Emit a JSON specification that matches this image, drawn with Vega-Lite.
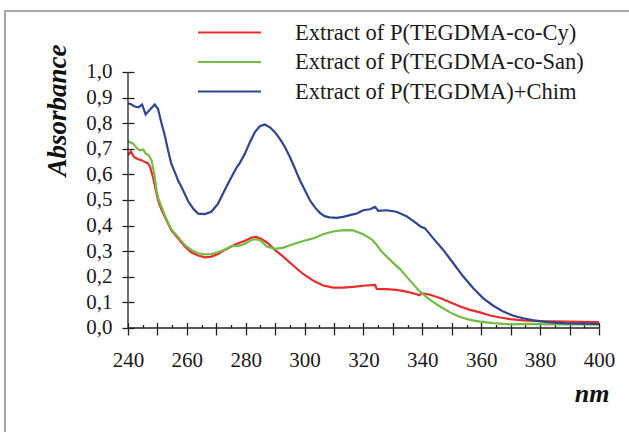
{
  "$schema": "https://vega.github.io/schema/vega-lite/v6.json",
  "autosize": {"type": "none"},
  "width": 627,
  "height": 424,
  "padding": {"left": 5, "top": 11, "right": -3, "bottom": -3},
  "background": "white",
  "config": {
    "view": {"stroke": "#8c8c8c", "strokeWidth": 1.5},
    "font": "Liberation Serif",
    "axis": {"domain": false, "grid": false, "tickColor": "#222222", "tickWidth": 1.3, "labelFont": "Liberation Serif", "labelFontSize": 21, "labelColor": "#1a1a1a", "titleFont": "Liberation Serif", "titleColor": "#111111"}
  },
  "datasets": {
    "spectra": [
      {"series": "Extract of P(TEGDMA-co-Cy)", "nm": 240, "A": 0.674},
      {"series": "Extract of P(TEGDMA-co-Cy)", "nm": 241, "A": 0.690},
      {"series": "Extract of P(TEGDMA-co-Cy)", "nm": 242, "A": 0.668},
      {"series": "Extract of P(TEGDMA-co-Cy)", "nm": 243.5, "A": 0.659},
      {"series": "Extract of P(TEGDMA-co-Cy)", "nm": 244.6, "A": 0.655},
      {"series": "Extract of P(TEGDMA-co-Cy)", "nm": 245.8, "A": 0.648},
      {"series": "Extract of P(TEGDMA-co-Cy)", "nm": 246.7, "A": 0.644},
      {"series": "Extract of P(TEGDMA-co-Cy)", "nm": 247.5, "A": 0.629},
      {"series": "Extract of P(TEGDMA-co-Cy)", "nm": 248.6, "A": 0.584},
      {"series": "Extract of P(TEGDMA-co-Cy)", "nm": 249.7, "A": 0.525},
      {"series": "Extract of P(TEGDMA-co-Cy)", "nm": 250.2, "A": 0.499},
      {"series": "Extract of P(TEGDMA-co-Cy)", "nm": 251.3, "A": 0.465},
      {"series": "Extract of P(TEGDMA-co-Cy)", "nm": 252.5, "A": 0.434},
      {"series": "Extract of P(TEGDMA-co-Cy)", "nm": 254.7, "A": 0.382},
      {"series": "Extract of P(TEGDMA-co-Cy)", "nm": 257, "A": 0.350},
      {"series": "Extract of P(TEGDMA-co-Cy)", "nm": 259.3, "A": 0.318},
      {"series": "Extract of P(TEGDMA-co-Cy)", "nm": 261.5, "A": 0.296},
      {"series": "Extract of P(TEGDMA-co-Cy)", "nm": 263.8, "A": 0.283},
      {"series": "Extract of P(TEGDMA-co-Cy)", "nm": 266.1, "A": 0.276},
      {"series": "Extract of P(TEGDMA-co-Cy)", "nm": 268.3, "A": 0.279},
      {"series": "Extract of P(TEGDMA-co-Cy)", "nm": 270.6, "A": 0.289},
      {"series": "Extract of P(TEGDMA-co-Cy)", "nm": 272.9, "A": 0.305},
      {"series": "Extract of P(TEGDMA-co-Cy)", "nm": 275.1, "A": 0.318},
      {"series": "Extract of P(TEGDMA-co-Cy)", "nm": 277.4, "A": 0.331},
      {"series": "Extract of P(TEGDMA-co-Cy)", "nm": 279.6, "A": 0.340},
      {"series": "Extract of P(TEGDMA-co-Cy)", "nm": 281.9, "A": 0.353},
      {"series": "Extract of P(TEGDMA-co-Cy)", "nm": 283.6, "A": 0.356},
      {"series": "Extract of P(TEGDMA-co-Cy)", "nm": 285.3, "A": 0.348},
      {"series": "Extract of P(TEGDMA-co-Cy)", "nm": 287.1, "A": 0.335},
      {"series": "Extract of P(TEGDMA-co-Cy)", "nm": 289.9, "A": 0.305},
      {"series": "Extract of P(TEGDMA-co-Cy)", "nm": 292.7, "A": 0.279},
      {"series": "Extract of P(TEGDMA-co-Cy)", "nm": 296.1, "A": 0.244},
      {"series": "Extract of P(TEGDMA-co-Cy)", "nm": 299.5, "A": 0.211},
      {"series": "Extract of P(TEGDMA-co-Cy)", "nm": 302.9, "A": 0.185},
      {"series": "Extract of P(TEGDMA-co-Cy)", "nm": 306.3, "A": 0.166},
      {"series": "Extract of P(TEGDMA-co-Cy)", "nm": 309.7, "A": 0.158},
      {"series": "Extract of P(TEGDMA-co-Cy)", "nm": 313.1, "A": 0.158},
      {"series": "Extract of P(TEGDMA-co-Cy)", "nm": 316.5, "A": 0.161},
      {"series": "Extract of P(TEGDMA-co-Cy)", "nm": 319.9, "A": 0.165},
      {"series": "Extract of P(TEGDMA-co-Cy)", "nm": 323.9, "A": 0.168},
      {"series": "Extract of P(TEGDMA-co-Cy)", "nm": 324.5, "A": 0.153},
      {"series": "Extract of P(TEGDMA-co-Cy)", "nm": 327.8, "A": 0.152},
      {"series": "Extract of P(TEGDMA-co-Cy)", "nm": 331.2, "A": 0.149},
      {"series": "Extract of P(TEGDMA-co-Cy)", "nm": 334.6, "A": 0.142},
      {"series": "Extract of P(TEGDMA-co-Cy)", "nm": 337.4, "A": 0.134},
      {"series": "Extract of P(TEGDMA-co-Cy)", "nm": 339, "A": 0.128},
      {"series": "Extract of P(TEGDMA-co-Cy)", "nm": 339.8, "A": 0.136},
      {"series": "Extract of P(TEGDMA-co-Cy)", "nm": 342.6, "A": 0.130},
      {"series": "Extract of P(TEGDMA-co-Cy)", "nm": 346, "A": 0.117},
      {"series": "Extract of P(TEGDMA-co-Cy)", "nm": 349.4, "A": 0.101},
      {"series": "Extract of P(TEGDMA-co-Cy)", "nm": 352.8, "A": 0.084},
      {"series": "Extract of P(TEGDMA-co-Cy)", "nm": 356.2, "A": 0.071},
      {"series": "Extract of P(TEGDMA-co-Cy)", "nm": 359.6, "A": 0.061},
      {"series": "Extract of P(TEGDMA-co-Cy)", "nm": 363, "A": 0.049},
      {"series": "Extract of P(TEGDMA-co-Cy)", "nm": 366.4, "A": 0.041},
      {"series": "Extract of P(TEGDMA-co-Cy)", "nm": 369.8, "A": 0.035},
      {"series": "Extract of P(TEGDMA-co-Cy)", "nm": 374.3, "A": 0.030},
      {"series": "Extract of P(TEGDMA-co-Cy)", "nm": 380, "A": 0.027},
      {"series": "Extract of P(TEGDMA-co-Cy)", "nm": 389, "A": 0.025},
      {"series": "Extract of P(TEGDMA-co-Cy)", "nm": 400, "A": 0.023},

      {"series": "Extract of P(TEGDMA-co-San)", "nm": 240, "A": 0.729},
      {"series": "Extract of P(TEGDMA-co-San)", "nm": 241.8, "A": 0.720},
      {"series": "Extract of P(TEGDMA-co-San)", "nm": 242.9, "A": 0.704},
      {"series": "Extract of P(TEGDMA-co-San)", "nm": 244, "A": 0.694},
      {"series": "Extract of P(TEGDMA-co-San)", "nm": 245.2, "A": 0.697},
      {"series": "Extract of P(TEGDMA-co-San)", "nm": 246, "A": 0.681},
      {"series": "Extract of P(TEGDMA-co-San)", "nm": 247.1, "A": 0.674},
      {"series": "Extract of P(TEGDMA-co-San)", "nm": 248, "A": 0.655},
      {"series": "Extract of P(TEGDMA-co-San)", "nm": 248.9, "A": 0.603},
      {"series": "Extract of P(TEGDMA-co-San)", "nm": 249.7, "A": 0.538},
      {"series": "Extract of P(TEGDMA-co-San)", "nm": 250.3, "A": 0.506},
      {"series": "Extract of P(TEGDMA-co-San)", "nm": 251.5, "A": 0.470},
      {"series": "Extract of P(TEGDMA-co-San)", "nm": 252.5, "A": 0.440},
      {"series": "Extract of P(TEGDMA-co-San)", "nm": 254.7, "A": 0.386},
      {"series": "Extract of P(TEGDMA-co-San)", "nm": 257, "A": 0.356},
      {"series": "Extract of P(TEGDMA-co-San)", "nm": 259.3, "A": 0.324},
      {"series": "Extract of P(TEGDMA-co-San)", "nm": 261.5, "A": 0.305},
      {"series": "Extract of P(TEGDMA-co-San)", "nm": 263.8, "A": 0.292},
      {"series": "Extract of P(TEGDMA-co-San)", "nm": 266.1, "A": 0.288},
      {"series": "Extract of P(TEGDMA-co-San)", "nm": 268.3, "A": 0.289},
      {"series": "Extract of P(TEGDMA-co-San)", "nm": 270.6, "A": 0.296},
      {"series": "Extract of P(TEGDMA-co-San)", "nm": 272.9, "A": 0.307},
      {"series": "Extract of P(TEGDMA-co-San)", "nm": 275.1, "A": 0.320},
      {"series": "Extract of P(TEGDMA-co-San)", "nm": 277.4, "A": 0.321},
      {"series": "Extract of P(TEGDMA-co-San)", "nm": 279.6, "A": 0.328},
      {"series": "Extract of P(TEGDMA-co-San)", "nm": 281.9, "A": 0.344},
      {"series": "Extract of P(TEGDMA-co-San)", "nm": 283.6, "A": 0.347},
      {"series": "Extract of P(TEGDMA-co-San)", "nm": 285.3, "A": 0.340},
      {"series": "Extract of P(TEGDMA-co-San)", "nm": 287.1, "A": 0.318},
      {"series": "Extract of P(TEGDMA-co-San)", "nm": 289.9, "A": 0.309},
      {"series": "Extract of P(TEGDMA-co-San)", "nm": 292.7, "A": 0.314},
      {"series": "Extract of P(TEGDMA-co-San)", "nm": 296.1, "A": 0.327},
      {"series": "Extract of P(TEGDMA-co-San)", "nm": 299.5, "A": 0.340},
      {"series": "Extract of P(TEGDMA-co-San)", "nm": 302.9, "A": 0.350},
      {"series": "Extract of P(TEGDMA-co-San)", "nm": 306.3, "A": 0.366},
      {"series": "Extract of P(TEGDMA-co-San)", "nm": 309.7, "A": 0.377},
      {"series": "Extract of P(TEGDMA-co-San)", "nm": 313.1, "A": 0.382},
      {"series": "Extract of P(TEGDMA-co-San)", "nm": 316.5, "A": 0.381},
      {"series": "Extract of P(TEGDMA-co-San)", "nm": 319.9, "A": 0.366},
      {"series": "Extract of P(TEGDMA-co-San)", "nm": 322.8, "A": 0.346},
      {"series": "Extract of P(TEGDMA-co-San)", "nm": 324.5, "A": 0.324},
      {"series": "Extract of P(TEGDMA-co-San)", "nm": 326.2, "A": 0.298},
      {"series": "Extract of P(TEGDMA-co-San)", "nm": 329, "A": 0.266},
      {"series": "Extract of P(TEGDMA-co-San)", "nm": 332.4, "A": 0.230},
      {"series": "Extract of P(TEGDMA-co-San)", "nm": 335.8, "A": 0.185},
      {"series": "Extract of P(TEGDMA-co-San)", "nm": 339.2, "A": 0.142},
      {"series": "Extract of P(TEGDMA-co-San)", "nm": 342.6, "A": 0.110},
      {"series": "Extract of P(TEGDMA-co-San)", "nm": 346, "A": 0.084},
      {"series": "Extract of P(TEGDMA-co-San)", "nm": 349.4, "A": 0.061},
      {"series": "Extract of P(TEGDMA-co-San)", "nm": 352.8, "A": 0.043},
      {"series": "Extract of P(TEGDMA-co-San)", "nm": 356.2, "A": 0.032},
      {"series": "Extract of P(TEGDMA-co-San)", "nm": 359.6, "A": 0.025},
      {"series": "Extract of P(TEGDMA-co-San)", "nm": 364.1, "A": 0.019},
      {"series": "Extract of P(TEGDMA-co-San)", "nm": 369.8, "A": 0.014},
      {"series": "Extract of P(TEGDMA-co-San)", "nm": 375.4, "A": 0.016},
      {"series": "Extract of P(TEGDMA-co-San)", "nm": 383.3, "A": 0.014},
      {"series": "Extract of P(TEGDMA-co-San)", "nm": 392.3, "A": 0.014},
      {"series": "Extract of P(TEGDMA-co-San)", "nm": 400, "A": 0.013},

      {"series": "Extract of P(TEGDMA)+Chim", "nm": 240, "A": 0.878},
      {"series": "Extract of P(TEGDMA)+Chim", "nm": 241.2, "A": 0.873},
      {"series": "Extract of P(TEGDMA)+Chim", "nm": 242.3, "A": 0.865},
      {"series": "Extract of P(TEGDMA)+Chim", "nm": 243.5, "A": 0.862},
      {"series": "Extract of P(TEGDMA)+Chim", "nm": 244.8, "A": 0.873},
      {"series": "Extract of P(TEGDMA)+Chim", "nm": 246, "A": 0.834},
      {"series": "Extract of P(TEGDMA)+Chim", "nm": 247.1, "A": 0.849},
      {"series": "Extract of P(TEGDMA)+Chim", "nm": 249.1, "A": 0.873},
      {"series": "Extract of P(TEGDMA)+Chim", "nm": 250.2, "A": 0.856},
      {"series": "Extract of P(TEGDMA)+Chim", "nm": 251.3, "A": 0.804},
      {"series": "Extract of P(TEGDMA)+Chim", "nm": 252.5, "A": 0.752},
      {"series": "Extract of P(TEGDMA)+Chim", "nm": 253.6, "A": 0.694},
      {"series": "Extract of P(TEGDMA)+Chim", "nm": 254.7, "A": 0.642},
      {"series": "Extract of P(TEGDMA)+Chim", "nm": 255.9, "A": 0.609},
      {"series": "Extract of P(TEGDMA)+Chim", "nm": 257, "A": 0.577},
      {"series": "Extract of P(TEGDMA)+Chim", "nm": 258.7, "A": 0.538},
      {"series": "Extract of P(TEGDMA)+Chim", "nm": 260.4, "A": 0.496},
      {"series": "Extract of P(TEGDMA)+Chim", "nm": 262.1, "A": 0.467},
      {"series": "Extract of P(TEGDMA)+Chim", "nm": 263.8, "A": 0.447},
      {"series": "Extract of P(TEGDMA)+Chim", "nm": 266.1, "A": 0.445},
      {"series": "Extract of P(TEGDMA)+Chim", "nm": 268.3, "A": 0.454},
      {"series": "Extract of P(TEGDMA)+Chim", "nm": 270.6, "A": 0.486},
      {"series": "Extract of P(TEGDMA)+Chim", "nm": 272.7, "A": 0.535},
      {"series": "Extract of P(TEGDMA)+Chim", "nm": 274.7, "A": 0.580},
      {"series": "Extract of P(TEGDMA)+Chim", "nm": 276.8, "A": 0.625},
      {"series": "Extract of P(TEGDMA)+Chim", "nm": 278, "A": 0.645},
      {"series": "Extract of P(TEGDMA)+Chim", "nm": 279.7, "A": 0.681},
      {"series": "Extract of P(TEGDMA)+Chim", "nm": 281.4, "A": 0.726},
      {"series": "Extract of P(TEGDMA)+Chim", "nm": 283.1, "A": 0.765},
      {"series": "Extract of P(TEGDMA)+Chim", "nm": 284.8, "A": 0.788},
      {"series": "Extract of P(TEGDMA)+Chim", "nm": 286.5, "A": 0.795},
      {"series": "Extract of P(TEGDMA)+Chim", "nm": 288.2, "A": 0.784},
      {"series": "Extract of P(TEGDMA)+Chim", "nm": 289.9, "A": 0.765},
      {"series": "Extract of P(TEGDMA)+Chim", "nm": 291.6, "A": 0.739},
      {"series": "Extract of P(TEGDMA)+Chim", "nm": 293.3, "A": 0.707},
      {"series": "Extract of P(TEGDMA)+Chim", "nm": 295, "A": 0.668},
      {"series": "Extract of P(TEGDMA)+Chim", "nm": 296.7, "A": 0.623},
      {"series": "Extract of P(TEGDMA)+Chim", "nm": 298.4, "A": 0.577},
      {"series": "Extract of P(TEGDMA)+Chim", "nm": 300.1, "A": 0.538},
      {"series": "Extract of P(TEGDMA)+Chim", "nm": 301.8, "A": 0.499},
      {"series": "Extract of P(TEGDMA)+Chim", "nm": 303.5, "A": 0.471},
      {"series": "Extract of P(TEGDMA)+Chim", "nm": 305.2, "A": 0.450},
      {"series": "Extract of P(TEGDMA)+Chim", "nm": 306.8, "A": 0.437},
      {"series": "Extract of P(TEGDMA)+Chim", "nm": 308.5, "A": 0.432},
      {"series": "Extract of P(TEGDMA)+Chim", "nm": 310.8, "A": 0.430},
      {"series": "Extract of P(TEGDMA)+Chim", "nm": 313.1, "A": 0.434},
      {"series": "Extract of P(TEGDMA)+Chim", "nm": 315.4, "A": 0.441},
      {"series": "Extract of P(TEGDMA)+Chim", "nm": 317.7, "A": 0.447},
      {"series": "Extract of P(TEGDMA)+Chim", "nm": 319.9, "A": 0.460},
      {"series": "Extract of P(TEGDMA)+Chim", "nm": 322.2, "A": 0.464},
      {"series": "Extract of P(TEGDMA)+Chim", "nm": 323.9, "A": 0.473},
      {"series": "Extract of P(TEGDMA)+Chim", "nm": 325, "A": 0.458},
      {"series": "Extract of P(TEGDMA)+Chim", "nm": 327.8, "A": 0.460},
      {"series": "Extract of P(TEGDMA)+Chim", "nm": 331.2, "A": 0.454},
      {"series": "Extract of P(TEGDMA)+Chim", "nm": 334.6, "A": 0.437},
      {"series": "Extract of P(TEGDMA)+Chim", "nm": 338, "A": 0.409},
      {"series": "Extract of P(TEGDMA)+Chim", "nm": 339.5, "A": 0.395},
      {"series": "Extract of P(TEGDMA)+Chim", "nm": 340.9, "A": 0.389},
      {"series": "Extract of P(TEGDMA)+Chim", "nm": 343.7, "A": 0.350},
      {"series": "Extract of P(TEGDMA)+Chim", "nm": 347.1, "A": 0.305},
      {"series": "Extract of P(TEGDMA)+Chim", "nm": 350.5, "A": 0.253},
      {"series": "Extract of P(TEGDMA)+Chim", "nm": 353.9, "A": 0.201},
      {"series": "Extract of P(TEGDMA)+Chim", "nm": 357.3, "A": 0.155},
      {"series": "Extract of P(TEGDMA)+Chim", "nm": 360.7, "A": 0.116},
      {"series": "Extract of P(TEGDMA)+Chim", "nm": 364.1, "A": 0.087},
      {"series": "Extract of P(TEGDMA)+Chim", "nm": 367.5, "A": 0.064},
      {"series": "Extract of P(TEGDMA)+Chim", "nm": 370.9, "A": 0.048},
      {"series": "Extract of P(TEGDMA)+Chim", "nm": 374.3, "A": 0.038},
      {"series": "Extract of P(TEGDMA)+Chim", "nm": 377.7, "A": 0.030},
      {"series": "Extract of P(TEGDMA)+Chim", "nm": 383.3, "A": 0.022},
      {"series": "Extract of P(TEGDMA)+Chim", "nm": 389, "A": 0.018},
      {"series": "Extract of P(TEGDMA)+Chim", "nm": 400, "A": 0.016}
    ]
  },
  "resolve": {"axis": {"x": "independent", "y": "independent"}},
  "layer": [
    {
      "data": {"name": "spectra"},
      "mark": {"type": "line", "strokeWidth": 2.2, "interpolate": "linear"},
      "encoding": {
        "x": {
          "field": "nm", "type": "quantitative",
          "scale": {"domain": [198.217, 411.211], "nice": false, "zero": false},
          "axis": {
            "orient": "bottom", "offset": -107,
            "values": [240, 250, 260, 270, 280, 290, 300, 310, 320, 330, 340, 350, 360, 370, 380, 390, 400],
            "labelExpr": "datum.value % 20 == 0 ? datum.label : ''",
            "tickSize": 7, "labelPadding": 14, "labelFlush": false,
            "title": "nm", "titleFont": "Liberation Serif", "titleFontSize": 26, "titleFontWeight": "bold", "titleFontStyle": "italic",
            "titleAnchor": "start", "titleAlign": "right", "titleBaseline": "alphabetic", "titleX": 604, "titleY": 73
          }
        },
        "y": {
          "field": "A", "type": "quantitative",
          "scale": {"domain": [-0.41797, 1.23828], "nice": false, "zero": false},
          "axis": {
            "orient": "left", "offset": -123,
            "values": [0, 0.1, 0.2, 0.3, 0.4, 0.5, 0.6, 0.7, 0.8, 0.9, 1.0],
            "labelExpr": "replace(format(datum.value, '.1f'), '.', ',')",
            "tickSize": 6, "labelPadding": 10, "labelFlush": false,
            "title": "Absorbance", "titleFontSize": 27, "titleFontWeight": "bold", "titleFontStyle": "italic",
            "titleAngle": 270, "titleAlign": "center", "titleBaseline": "alphabetic", "titleX": -63, "titleY": 99, "titleAnchor": "start"
          }
        },
        "color": {
          "field": "series", "type": "nominal",
          "scale": {"domain": ["Extract of P(TEGDMA-co-Cy)", "Extract of P(TEGDMA-co-San)", "Extract of P(TEGDMA)+Chim"], "range": ["#ec2a2a", "#72bd45", "#2e4597"]},
          "legend": {
            "orient": "none", "legendX": 213, "legendY": 10, "title": null, "padding": 0,
            "symbolType": "M-3,0H3", "symbolSize": 441, "symbolStrokeWidth": 2, "symbolFillColor": "transparent",
            "labelFont": "Liberation Serif", "labelFontSize": 22.5, "labelColor": "#1a1a1a", "labelOffset": 54, "labelLimit": 400,
            "rowPadding": 6.5
          }
        }
      }
    },
    {
      "data": {"values": [{"line": "x axis"}]},
      "mark": {"type": "rule", "color": "#222222", "strokeWidth": 1.3},
      "encoding": {
        "x": {"datum": 240, "type": "quantitative",
          "axis": {"orient": "bottom", "offset": -107, "values": [240, 250, 260, 270, 280, 290, 300, 310, 320, 330, 340, 350, 360, 370, 380, 390, 400], "tickSize": -5.5, "labels": false, "title": null}},
        "x2": {"datum": 400},
        "y": {"datum": 0, "type": "quantitative",
          "axis": {"orient": "left", "offset": -123, "values": [0, 0.1, 0.2, 0.3, 0.4, 0.5, 0.6, 0.7, 0.8, 0.9, 1.0], "tickSize": -6, "labels": false, "title": null}}
      }
    },
    {
      "data": {"values": [{"line": "y axis"}]},
      "mark": {"type": "rule", "color": "#222222", "strokeWidth": 1.3},
      "encoding": {
        "x": {"datum": 240, "type": "quantitative",
          "axis": {"orient": "bottom", "offset": -107, "values": [245, 255, 265, 275, 285, 295, 305, 315, 325, 335, 345, 355, 365, 375, 385, 395], "tickSize": -3.5, "labels": false, "title": null}},
        "y": {"datum": 0, "type": "quantitative", "axis": null},
        "y2": {"datum": 1}
      }
    }
  ]
}
